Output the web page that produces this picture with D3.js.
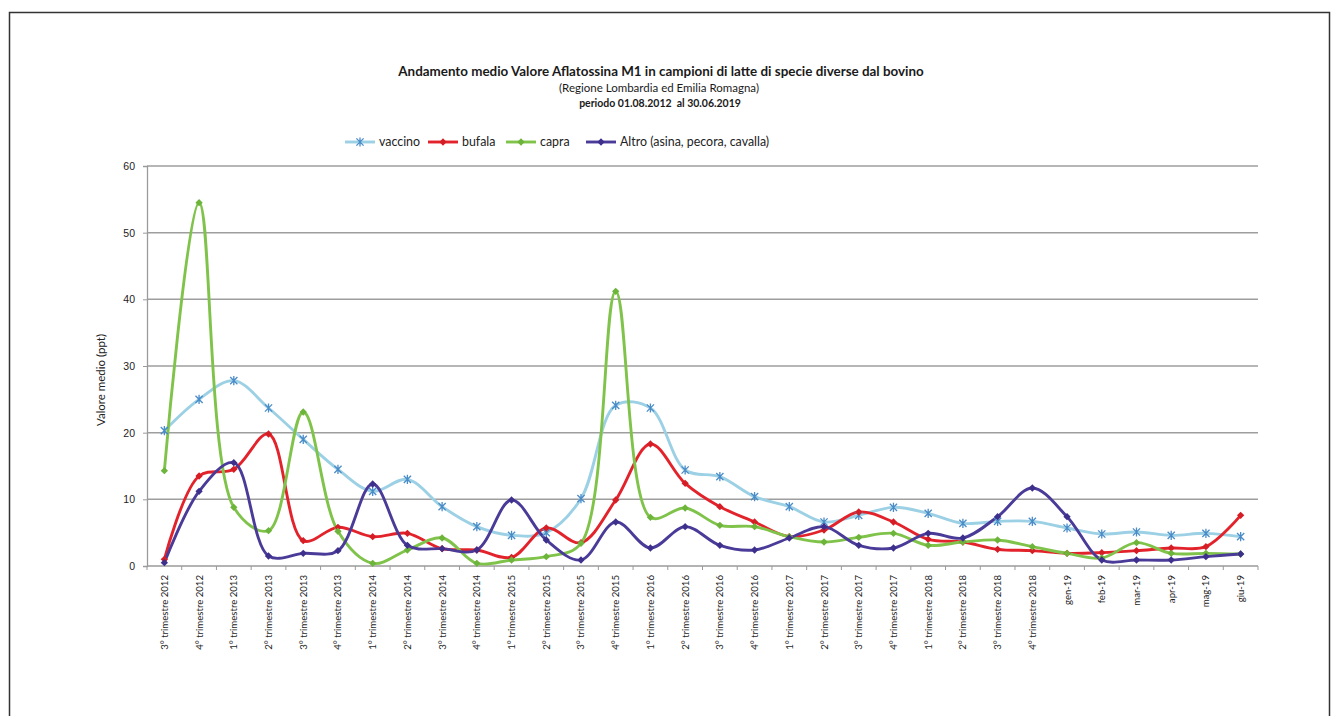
<!DOCTYPE html>
<html>
<head>
<meta charset="utf-8">
<script src="https://cdn.jsdelivr.net/npm/d3@7/dist/d3.min.js"></script>
<style>
  html, body { margin: 0; padding: 0; background: #ffffff; }
  svg { display: block; font-family: Lato, "Open Sans", "Liberation Sans", sans-serif; }
</style>
</head>
<body>
<svg id="chart" width="1334" height="716"></svg>
<script>
// Periods (quarters up to 2018, then months of 2019)
const categories = [
  "3° trimestre 2012", "4° trimestre 2012",
  "1° trimestre 2013", "2° trimestre 2013", "3° trimestre 2013", "4° trimestre 2013",
  "1° trimestre 2014", "2° trimestre 2014", "3° trimestre 2014", "4° trimestre 2014",
  "1° trimestre 2015", "2° trimestre 2015", "3° trimestre 2015", "4° trimestre 2015",
  "1° trimestre 2016", "2° trimestre 2016", "3° trimestre 2016", "4° trimestre 2016",
  "1° trimestre 2017", "2° trimestre 2017", "3° trimestre 2017", "4° trimestre 2017",
  "1° trimestre 2018", "2° trimestre 2018", "3° trimestre 2018", "4° trimestre 2018",
  "gen-19", "feb-19", "mar-19", "apr-19", "mag-19", "giu-19"
];

// Mean aflatoxin M1 values (ppt) per species
const vaccino = [20.3, 25.0, 27.8, 23.7, 19.0, 14.5, 11.2, 13.0, 8.9, 5.9, 4.6, 5.0, 10.1, 24.1, 23.7, 14.4,
                 13.4, 10.4, 8.9, 6.6, 7.6, 8.8, 7.9, 6.4, 6.7, 6.7, 5.7, 4.8, 5.1, 4.6, 4.9, 4.4];
const bufala  = [1.0, 13.5, 14.5, 19.8, 3.8, 5.8, 4.4, 4.9, 2.6, 2.4, 1.3, 5.7, 3.5, 9.9, 18.3, 12.4,
                 8.9, 6.6, 4.4, 5.4, 8.1, 6.6, 4.0, 3.6, 2.5, 2.3, 1.9, 2.0, 2.3, 2.7, 2.9, 7.6];
const capra   = [14.3, 54.5, 8.8, 5.3, 23.1, 5.2, 0.4, 2.4, 4.2, 0.4, 0.9, 1.4, 3.4, 41.2, 7.3, 8.7,
                 6.1, 5.9, 4.4, 3.6, 4.3, 4.9, 3.1, 3.6, 3.9, 2.9, 1.9, 1.2, 3.5, 1.9, 1.9, 1.8];
const altro   = [0.5, 11.2, 15.5, 1.5, 1.9, 2.3, 12.3, 3.1, 2.6, 2.4, 9.9, 3.9, 0.9, 6.6, 2.7, 5.9,
                 3.1, 2.4, 4.2, 5.9, 3.1, 2.7, 4.9, 4.2, 7.4, 11.7, 7.4, 0.9, 0.9, 0.9, 1.4, 1.8];

const yTicks = [0, 10, 20, 30, 40, 50, 60];

const seriesNames = ["vaccino", "bufala", "capra", "Altro (asina, pecora, cavalla)"];
const seriesValues = [vaccino, bufala, capra, altro];
const seriesColors = ["#9cd0e4", "#e3232b", "#80c34b", "#4a3b98"];
const markerColors = ["#4a8cc8", "#d51d26", "#6cb43a", "#3d2f8c"];
const markerKinds  = ["star", "diamond", "diamond", "diamond"];

const svg = d3.select("#chart");

// Outer frame
svg.append("rect")
  .attr("x", 9.5).attr("y", 12.5).attr("width", 1320).attr("height", 720)
  .attr("fill", "#ffffff").attr("stroke", "#333333").attr("stroke-width", 1.5);

const margin = { left: 147, right: 1258, top: 166, bottom: 566 };

const x = d3.scaleBand()
  .domain(categories)
  .range([margin.left, margin.right])
  .paddingInner(0).paddingOuter(0);

const y = d3.scaleLinear()
  .domain([0, 60])
  .range([margin.bottom, margin.top]);

const cx = d => x(d) + x.bandwidth() / 2;

// Horizontal gridlines
svg.append("g")
  .selectAll("line")
  .data(yTicks.filter(t => t > 0))
  .join("line")
  .attr("x1", margin.left).attr("x2", margin.right)
  .attr("y1", d => y(d)).attr("y2", d => y(d))
  .attr("stroke", "#9e9e9e").attr("stroke-width", 1.5);

// Y axis
const yAxis = d3.axisLeft(y).tickValues(yTicks).tickSize(4).tickPadding(8);
const gy = svg.append("g").attr("transform", `translate(${margin.left},0)`).call(yAxis);
gy.select(".domain").attr("stroke", "#9a9a9a").attr("stroke-width", 1.3);
gy.selectAll(".tick line").attr("stroke", "#9a9a9a");
gy.selectAll(".tick text").attr("fill", "#222").style("font-size", "10.5px");

// X axis: ticks at category boundaries, labels rotated
const gx = svg.append("g").attr("transform", `translate(0,${margin.bottom})`);
gx.append("line")
  .attr("x1", margin.left).attr("x2", margin.right)
  .attr("stroke", "#9a9a9a").attr("stroke-width", 1.3);
gx.selectAll("line.tk")
  .data(categories.concat([null]))
  .join("line")
  .attr("class", "tk")
  .attr("x1", (d, i) => margin.left + i * x.bandwidth())
  .attr("x2", (d, i) => margin.left + i * x.bandwidth())
  .attr("y1", 0).attr("y2", 4)
  .attr("stroke", "#9a9a9a");
gx.selectAll("text")
  .data(categories)
  .join("text")
  .attr("transform", d => `translate(${cx(d) + 3.5},9) rotate(-90)`)
  .attr("text-anchor", "end")
  .attr("fill", "#1e1e1e")
  .style("font-size", "9.6px")
  .text(d => d);

// Y axis title
svg.append("text")
  .attr("transform", `translate(105,${(margin.top + margin.bottom) / 2 + 14}) rotate(-90)`)
  .attr("text-anchor", "middle")
  .attr("fill", "#222")
  .style("font-size", "11.5px")
  .text("Valore medio (ppt)");

// Smoothed series lines
const line = d3.line()
  .x((d, i) => cx(categories[i]))
  .y(d => y(d))
  .curve(d3.curveCatmullRom.alpha(0.5));

const plot = svg.append("g");
seriesValues.forEach((vals, k) => {
  plot.append("path")
    .datum(vals)
    .attr("d", line)
    .attr("fill", "none")
    .attr("stroke", seriesColors[k])
    .attr("stroke-width", 2.9)
    .attr("stroke-linejoin", "round");
});

function drawMarker(g, kind, px, py, color) {
  if (kind === "star") {
    const s = 3.6;
    g.append("path")
      .attr("d", `M${px - s},${py - s}L${px + s},${py + s}M${px - s},${py + s}L${px + s},${py - s}M${px},${py - s - 1}L${px},${py + s + 1}`)
      .attr("stroke", color).attr("stroke-width", 1.3).attr("fill", "none");
  } else {
    g.append("path")
      .attr("d", d3.symbol(d3.symbolDiamond2, 34)())
      .attr("transform", `translate(${px},${py})`)
      .attr("fill", color);
  }
}

seriesValues.forEach((vals, k) => {
  const g = plot.append("g");
  vals.forEach((v, i) => drawMarker(g, markerKinds[k], cx(categories[i]), y(v), markerColors[k]));
});

// Title
const title = svg.append("g").attr("text-anchor", "middle").attr("fill", "#1a1a1a");
title.append("text").attr("x", 661).attr("y", 76)
  .style("font-size", "13.4px").style("font-weight", "bold")
  .text("Andamento medio Valore Aflatossina M1 in campioni di latte di specie diverse dal bovino");
title.append("text").attr("x", 659).attr("y", 92)
  .style("font-size", "11.5px")
  .text("(Regione Lombardia ed Emilia Romagna)");
title.append("text").attr("x", 660).attr("y", 107)
  .style("font-size", "10.5px").style("font-weight", "bold").attr("xml:space", "preserve")
  .text("periodo 01.08.2012  al 30.06.2019");

// Legend
const legendX = [345, 428, 506, 586];
const legend = svg.append("g");
seriesNames.forEach((name, k) => {
  const lx = legendX[k], ly = 142;
  legend.append("line")
    .attr("x1", lx).attr("x2", lx + 30).attr("y1", ly).attr("y2", ly)
    .attr("stroke", seriesColors[k]).attr("stroke-width", 2.9);
  drawMarker(legend, markerKinds[k], lx + 15, ly, markerColors[k]);
  legend.append("text")
    .attr("x", lx + 34).attr("y", ly + 4)
    .attr("fill", "#222").style("font-size", "12.4px")
    .text(name);
});
</script>
</body>
</html>
